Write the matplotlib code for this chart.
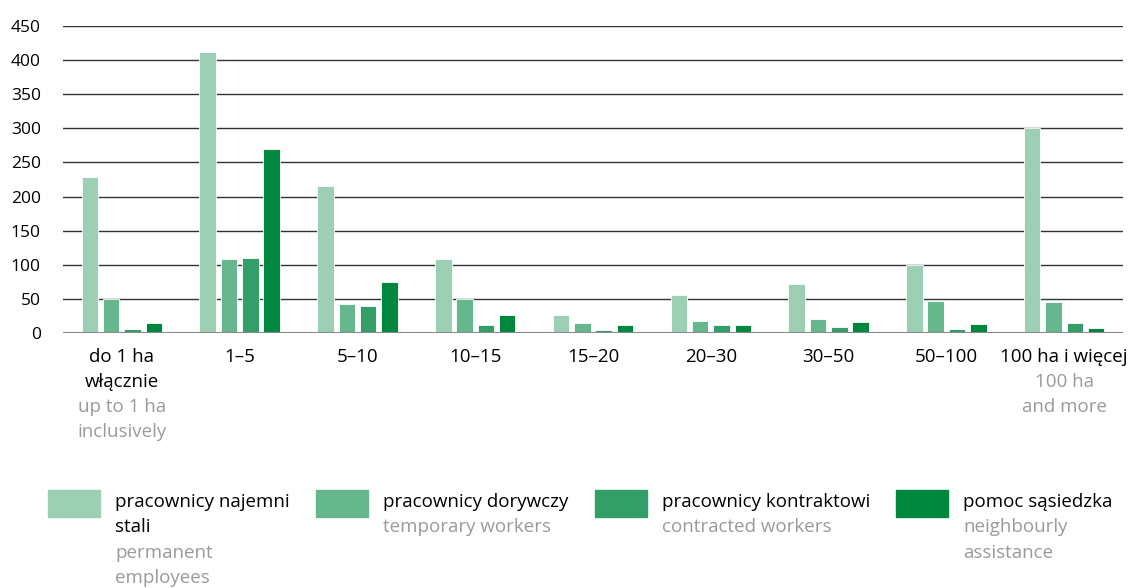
import matplotlib.pyplot as plt
from matplotlib.patches import Rectangle
from matplotlib.transforms import offset_copy
import numpy as np

plt.rcParams['font.family'] = ['Open Sans', 'DejaVu Sans']

groups_pl = [["do 1 ha", "włącznie"], ["1–5"], ["5–10"], ["10–15"], ["15–20"],
             ["20–30"], ["30–50"], ["50–100"], ["100 ha i więcej"]]
groups_en = [["up to 1 ha", "inclusively"], [], [], [], [], [], [], [], ["100 ha", "and more"]]

permanent = [228, 412, 216, 108, 27, 55, 72, 100, 300]
temporary = [50, 109, 42, 50, 15, 18, 20, 47, 46]
contracted = [6, 110, 39, 11, 5, 11, 9, 6, 14]
neighbourly = [14, 270, 75, 27, 11, 11, 16, 13, 8]

series = [permanent, temporary, contracted, neighbourly]
series_pl = ["pracownicy najemni\nstali", "pracownicy dorywczy", "pracownicy kontraktowi", "pomoc sąsiedzka"]
series_en = ["permanent\nemployees", "temporary workers", "contracted workers", "neighbourly\nassistance"]
colors = ["#9ccfb4", "#66b78d", "#339e67", "#00873f"]
yticks = [0, 50, 100, 150, 200, 250, 300, 350, 400, 450]

fig = plt.figure(figsize=(11.31, 5.88), dpi=100)
ax = fig.add_axes([0.0557, 0.4337, 0.9373, 0.5221])

x = np.arange(len(groups_pl))
step = 0.181
width = 0.14
for i, vals in enumerate(series):
    ax.bar(x + (i - 1.5) * step, vals, width, color=colors[i], edgecolor='white',
           linewidth=0.6, zorder=3)

ax.set_xlim(-0.5, len(groups_pl) - 0.5)
ax.set_ylim(0, 450)
ax.set_yticks(yticks)
ax.yaxis.grid(True, color='#333333', linewidth=1.0, zorder=0)
ax.axhline(0, color='#888888', linewidth=1.5, zorder=4)
for s in ax.spines.values():
    s.set_visible(False)
ax.tick_params(axis='y', length=0, pad=16, labelsize=12.5)
ax.set_xticks([])

gray = '#9a9a9a'
fs = 13.5
line_pt = 18
for i in range(len(groups_pl)):
    lines = [(t, 'black') for t in groups_pl[i]] + [(t, gray) for t in groups_en[i]]
    for j, (t, c) in enumerate(lines):
        tr = offset_copy(ax.get_xaxis_transform(), fig=fig, x=0, y=-17.5 - j * line_pt, units='points')
        ax.text(x[i], 0, t, transform=tr, ha='center', va='center', fontsize=fs, color=c)

# legend
sq_x = [48, 316, 595, 896]
for i in range(4):
    x0 = sq_x[i] / 1131
    fig.patches.append(Rectangle((x0, 1 - 517 / 588), 52 / 1131, 27 / 588,
                                 transform=fig.transFigure, color=colors[i]))
    tx = (sq_x[i] + 67) / 1131
    lines = [(t, 'black') for t in series_pl[i].split('\n')] + \
            [(t, gray) for t in series_en[i].split('\n')]
    for j, (t, c) in enumerate(lines):
        fig.text(tx, 1 - (502 + j * 25.3) / 588, t, ha='left', va='center', fontsize=fs, color=c)

fig.savefig('out.png', dpi=100)
